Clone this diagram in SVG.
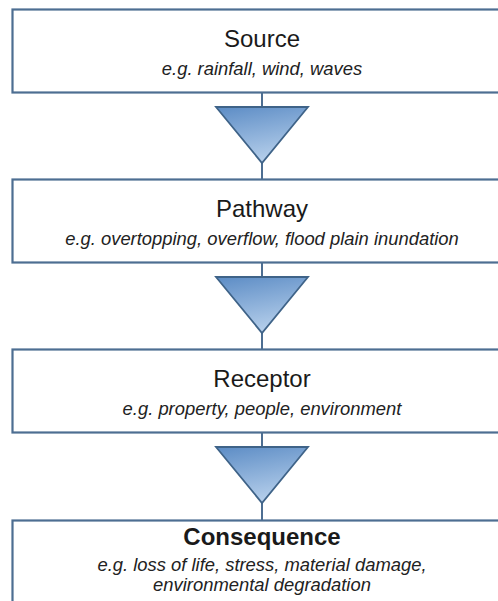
<svg xmlns="http://www.w3.org/2000/svg" width="498" height="601" viewBox="0 0 498 601">
<defs>
<linearGradient id="tri" x1="0" y1="0" x2="0.3" y2="1">
<stop offset="0" stop-color="#5c8cc5"/>
<stop offset="1" stop-color="#b3cdea"/>
</linearGradient>
<style>
.box{fill:#ffffff;stroke:#4d6e92;stroke-width:2.2}
.t{font-family:"Liberation Sans",Arial,sans-serif;font-size:24px;fill:#1a1a1a;text-anchor:middle}
.tb{font-weight:bold}
.s{font-family:"Liberation Sans",Arial,sans-serif;font-size:18.4px;font-style:italic;fill:#222;text-anchor:middle}
.ln{stroke:#4d6e92;stroke-width:2;fill:none}
.arr{fill:url(#tri);stroke:#3f6388;stroke-width:1.8;stroke-linejoin:miter}
</style>
</defs>
<rect width="498" height="601" fill="#ffffff"/>
<g id="connectors">
<line class="ln" x1="262" y1="92" x2="262" y2="179"/>
<polygon class="arr" points="216,107 308,107 262,163"/>
<line class="ln" x1="262" y1="262" x2="262" y2="349"/>
<polygon class="arr" points="216,277 308,277 262,333"/>
<line class="ln" x1="262" y1="432" x2="262" y2="520"/>
<polygon class="arr" points="216,447 308,447 262,503"/>
</g>
<g id="source">
<rect class="box" x="12.5" y="9.5" width="510" height="83"/>
<text class="t" x="262" y="47">Source</text>
<text class="s" x="262" y="75">e.g. rainfall, wind, waves</text>
</g>
<g id="pathway">
<rect class="box" x="12.5" y="179.5" width="510" height="83"/>
<text class="t" x="262" y="217">Pathway</text>
<text class="s" x="262" y="245">e.g. overtopping, overflow, flood plain inundation</text>
</g>
<g id="receptor">
<rect class="box" x="12.5" y="349.5" width="510" height="83"/>
<text class="t" x="262" y="387">Receptor</text>
<text class="s" x="262" y="415">e.g. property, people, environment</text>
</g>
<g id="consequence">
<rect class="box" x="12.5" y="520.5" width="510" height="100"/>
<text class="t tb" x="262" y="545">Consequence</text>
<text class="s" x="262" y="571">e.g. loss of life, stress, material damage,</text>
<text class="s" x="262" y="591">environmental degradation</text>
</g>
</svg>
